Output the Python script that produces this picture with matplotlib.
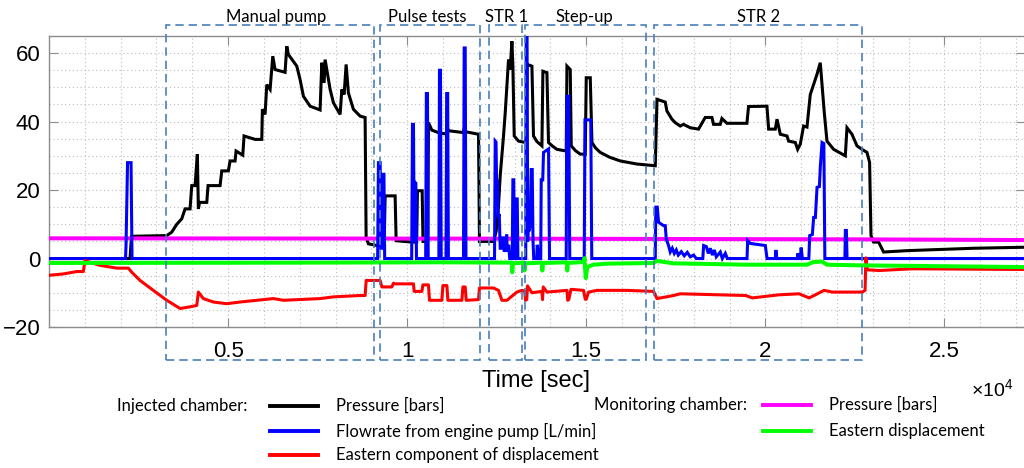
import matplotlib
matplotlib.use("Agg")
import matplotlib.pyplot as plt
from matplotlib.lines import Line2D
from matplotlib.patches import Rectangle
from matplotlib.transforms import blended_transform_factory
from matplotlib.ticker import FuncFormatter

# ---------------- data (time in seconds) ----------------
# Injected chamber: pressure [bars]
t_inj_pressure = [0, 2262, 2304, 3287, 3427, 3567, 3706, 3799, 3938, 3986, 4078,
                  4142, 4170, 4203, 4405, 4441, 4776, 4824, 5008, 5055, 5195,
                  5223, 5410, 5446, 5754, 5941, 5958, 6033, 6080, 6173, 6248,
                  6312, 6591, 6639, 6684, 6918, 7010, 7103, 7290, 7569, 7617,
                  7681, 7709, 7849, 7941, 8128, 8176, 8240, 8296, 8359, 8499,
                  8686, 8826, 8854, 8918, 9153, 9357, 9385, 9664, 9692, 10139,
                  10265, 10287, 10419, 10442, 10573, 10595, 10690, 10922, 11103,
                  11131, 11173, 11564, 11592, 11648, 11992, 12019, 12411, 12486,
                  12550, 12598, 12690, 12738, 12785, 12830, 12877, 12924, 12952,
                  12989, 13109, 13249, 13324, 13352, 13483, 13527, 13620, 13762,
                  13790, 13902, 13946, 14050, 14181, 14441, 14461, 14553, 14581,
                  14700, 14832, 14972, 15000, 15112, 15159, 15260, 15391, 15650,
                  15950, 16416, 16927, 16975, 17205, 17252, 17392, 17484, 17624,
                  17716, 17903, 18135, 18322, 18509, 18554, 18741, 18788, 18928,
                  19486, 19531, 20045, 20092, 20278, 20326, 20418, 20605, 20650,
                  20837, 20902, 20976, 21068, 21163, 21255, 21347, 21442, 21534,
                  21646, 21721, 21906, 22233, 22280, 22419, 22559, 22699, 22838,
                  22911, 22950, 23023, 23163, 23302, 23956, 25816, 27250]
inj_pressure = [0, 0, 6.5, 6.7, 7.7, 10, 11.6, 14.5, 14.5, 21.3, 21.3,
                30.5, 14.5, 16.4, 16.4, 21.3, 21.3, 25.6, 25.6, 28.5, 28.5,
                31.4, 30.2, 35.8, 34.8, 34.8, 43.6, 42.1, 50.8, 49.4, 59.1,
                55.2, 54.4, 62, 59.6, 56.2, 52.3, 47.4, 44.5, 43.4, 57.2,
                51.3, 58.1, 49.4, 45.5, 42.1, 49.4, 47.9, 56.7, 48.4, 43.6,
                41.6, 41.2, 6.2, 4.3, 3.8, 3.8, 18.3, 18.3, 5.2, 4.8,
                4.8, 19.8, 19.8, 5.0, 5.0, 39.7, 37.5, 36.6, 36.4,
                37.8, 37.3, 36.8, 38, 37, 36.3, 5.0, 5.0, 8,
                15.4, 24.2, 35.8, 42.6, 50.4, 58.1, 55.2, 63.5, 56.2,
                35.8, 34.3, 34, 34, 56.7, 56.2, 35.8, 34.2, 32.9,
                54.7, 54.3, 33.9, 32.9, 31.9, 31.4, 56.2, 55.2, 32.9,
                31.5, 30.5, 30.5, 52.8, 52.8, 33.9, 32.3, 31, 29.6,
                28.5, 27.6, 27.1, 46.5, 45.7, 43.1, 40.7, 39.7, 38.7,
                39.2, 38.2, 37.8, 41.2, 41.2, 39.2, 39.2, 40.9, 39.5,
                39.5, 44.4, 44.5, 37.8, 37.8, 40.7, 36.3, 35.8, 34.3,
                33.9, 31.9, 33.4, 38.7, 38.4, 47.9, 50.8, 53.8, 57.2,
                42.6, 34.3, 31.9, 30, 38.2, 36.3, 32.9, 31.9, 31,
                28.1, 6.7, 4.8, 4.8, 1.9, 2.3, 3.0, 3.3]

# Injected chamber: flowrate from engine pump [L/min]
t_flowrate = [0, 2137, 2151, 2193, 2291, 2318, 9176, 9198, 9246, 9268, 9302,
              9316, 9352, 9372, 10126, 10148, 10176, 10196, 10215, 10243, 10260,
              10517, 10536, 10567, 10587, 10885, 10902, 10930, 10950, 11084,
              11103, 11131, 11151, 11573, 11592, 11620, 11642, 12439, 12458,
              12481, 12500, 12514, 12542, 12570, 12598, 12626, 12667, 12695,
              12709, 12751, 12779, 12793, 12835, 12863, 12933, 12952, 12975,
              12994, 13031, 13050, 13073, 13092, 13310, 13324, 13347, 13366,
              13389, 13408, 13436, 13464, 13492, 13514, 13534, 13617, 13631,
              13659, 13687, 13729, 13743, 13785, 13807, 13947, 13975, 14441,
              14455, 14511, 14539, 14944, 14964, 15126, 15154, 16927, 16941,
              16983, 17019, 17159, 17206, 17234, 17298, 17346, 17402, 17458,
              17514, 17570, 17653, 17737, 17821, 17905, 17997, 18073, 18254,
              18277, 18352, 18408, 18464, 18520, 18575, 18631, 18743, 18799,
              18883, 18939, 19489, 19506, 19581, 19860, 20000, 20048, 20280,
              20294, 20322, 20894, 20908, 20936, 20978, 21000, 21034, 21215,
              21238, 21313, 21349, 21397, 21444, 21509, 21537, 21584, 21634,
              21662, 22221, 22235, 22263, 22282, 27250]
flowrate = [0, 0, 4, 28, 28, 0, 0, 28, 28, 3, 3,
            24.6, 24.6, 0, 0, 39.2, 39.2, 5, 22.3, 22, 0,
            0, 48.2, 48.2, 0, 0, 55, 55, 0, 0,
            48.2, 48.2, 0, 0, 61.5, 61.5, 0, 0, 34.3,
            34, 20, 23, 12, 13, 3, 3, 6, 6,
            2, 3, 7, 2, 4, 0, 0, 23, 23,
            0, 0, 17.4, 17.4, 0, 0, 66, 66, 5,
            15.4, 8, 10, 26, 26, 5, 0, 0, 4,
            2, 0, 0, 23, 23, 31, 32, 0, 0,
            47.4, 47.4, 0, 0, 40.5, 40.5, 0, 0, 15,
            15, 10.6, 9.6, 9.6, 5.7, 3.8, 1.9, 3, 1.5,
            2.5, 1, 2, 0.8, 1.8, 0.5, 1, 0, 0,
            3.8, 3.5, 1.5, 3, 1, 2.5, 0.5, 1.9, 0,
            1.5, 0, 0, 5.2, 4.4, 4, 3.8, 0, 0,
            2.5, 0, 0, 1.5, 0, 0, 3.2, 0, 0,
            6.7, 7, 12, 12, 20.8, 21, 27.1, 33.9, 33.6,
            0, 0, 8.2, 8.2, 0, 0]

# Injected chamber: eastern component of displacement
t_inj_disp = [0, 399, 774, 958, 1006, 1145, 1425, 1891, 2215, 2310, 2542,
              2913, 3288, 3659, 3939, 4126, 4170, 4310, 4589, 4964, 5335,
              6081, 6265, 6545, 7570, 7941, 8687, 8827, 8855, 9246, 9293,
              9572, 9617, 9664, 10176, 10196, 10411, 10439, 10595, 10623,
              10969, 10997, 11109, 11137, 11528, 11556, 11620, 11648, 11992,
              12019, 12411, 12550, 12645, 12785, 12924, 13064, 13204, 13282,
              13304, 13338, 13360, 13483, 13762, 13779, 13799, 13902, 14461,
              14483, 14511, 14573, 14925, 14972, 15000, 15064, 15299, 16137,
              16880, 16975, 17439, 17626, 19450, 19637, 20382, 20941, 21220,
              21360, 21639, 21871, 22709, 22785, 22807, 22849, 23176, 24106,
              27250]
inj_disp = [-4.9, -4.5, -3.8, -3.8, -0.6, -1.1, -2, -2.8, -2.8, -4, -6.4,
            -9.3, -12.2, -14.6, -14.1, -13.7, -9.8, -11.7, -12.7, -13.2, -12.7,
            -11.9, -11.7, -12.2, -11.7, -11.2, -10.8, -10.8, -6.4, -6.4, -8.3,
            -8.3, -7.2, -7.4, -7.4, -9.6, -9.6, -7.7, -7.7, -12.2,
            -12.2, -7.9, -7.9, -12.2, -12.2, -8.3, -8.3, -12.2, -12,
            -8.6, -8.6, -9.3, -12.2, -12.2, -11, -9.8, -9.3, -9.5,
            -12.2, -12, -8, -10, -9.6, -12, -8.3, -9.8, -9.3,
            -12.2, -12, -9, -9.3, -11.9, -11.9, -9.8, -9.3, -9.3,
            -9.6, -11.7, -10.8, -10.3, -10.8, -11.5, -10.6, -10.3, -11.5,
            -10.8, -9.3, -9.8, -9.8, -9.3, 0.2, -3.3, -3.5, -3.0,
            -3.2]

# Monitoring chamber: pressure [bars]
t_mon_pressure = [0, 12598, 22653, 27250]
mon_pressure = [5.9, 5.8, 5.6, 5.4]

# Monitoring chamber: eastern displacement
t_mon_disp = [0, 7011, 10922, 12919, 12933, 12955, 13262, 13276, 13296, 13759,
              13773, 13793, 14455, 14469, 14488, 14930, 14950, 14986, 15028,
              15196, 15578, 16872, 16975, 17439, 19489, 21165, 21349, 21584,
              21724, 22702, 27250]
mon_disp = [-1.3, -1.2, -1.1, -1.2, -4, -1.4, -1.2, -3.5, -1.4, -1.2,
            -3.5, -1.3, -1.1, -3.5, -1.3, -1.0, 0.1, -5.7, -2.5,
            -1.8, -1.5, -1.3, -0.7, -1.4, -1.8, -1.8, -1.0, -0.9,
            -1.8, -2.0, -2.5]

# Test phases: (label, start, end) in seconds, plus label anchor
phase_names = ["Manual pump", "Pulse tests", "STR 1", "Step-up", "STR 2"]
phase_start = [3268, 9246, 12290, 13296, 16899]
phase_end = [9078, 12039, 13212, 16676, 22710]
phase_label_x = [6341, 10573, 12765, 14936, 19824]

x_ticks = [5000, 10000, 15000, 20000, 25000]
y_ticks = [-20, 0, 20, 40, 60]

# ---------------- figure ----------------
TICK_FONT = "Liberation Sans"
NOTE_FONT = "Lato"

fig = plt.figure(figsize=(10.24, 4.68), dpi=100)
ax = fig.add_axes([49 / 1024, 141 / 468, 976 / 1024, 291 / 468])

ax.plot(t_inj_pressure, inj_pressure, color="black", lw=2.2, zorder=3,
        solid_joinstyle="miter")
ax.plot(t_mon_pressure, mon_pressure, color="#ff00ff", lw=2.9, zorder=4)
ax.plot(t_flowrate, flowrate, color="#0000ff", lw=2.2, zorder=5,
        solid_joinstyle="miter")
ax.plot(t_inj_disp, inj_disp, color="#ff0000", lw=2.2, zorder=6)
ax.plot(t_mon_disp, mon_disp, color="#00ff00", lw=2.9, zorder=7)

ax.set_xlim(0, 27250)
ax.set_ylim(-20, 65)
ax.set_xticks(x_ticks)
ax.set_yticks(y_ticks)
ax.set_xticks(range(1000, 27001, 1000), minor=True)
ax.set_yticks(range(-15, 65, 5), minor=True)
ax.xaxis.set_major_formatter(FuncFormatter(lambda v, p: f"{v / 1e4:g}"))

ax.grid(which="both", color="#bdbdbd", linestyle=(0, (1, 2.5)), lw=0.8)
ax.set_axisbelow(True)

for s in ax.spines.values():
    s.set_color("#8c8c8c")
    s.set_linewidth(1.0)

ax.tick_params(which="major", direction="in", length=6.5, width=0.8,
               color="#8c8c8c", top=True, right=True, labelsize=16)
ax.tick_params(which="minor", length=0, top=True, right=True)
ax.tick_params(axis="x", pad=10)
ax.tick_params(axis="y", pad=6)
for lab in ax.get_xticklabels() + ax.get_yticklabels():
    lab.set_fontfamily(TICK_FONT)

# axis label and exponent
fig.text(536 / 1024, 1 - 381 / 468, "Time [sec]", ha="center", va="center",
         fontsize=17, family=TICK_FONT)
fig.text(971 / 1024, 1 - 396 / 468, r"$\mathregular{\times10^{4}}$",
         ha="left", va="baseline", fontsize=14, family=TICK_FONT)

# dashed phase boxes
trans = blended_transform_factory(ax.transData, ax.transAxes)
for name, x0, x1, xl in zip(phase_names, phase_start, phase_end, phase_label_x):
    ax.add_patch(Rectangle((x0, -0.114), x1 - x0, 1.152, transform=trans,
                           fill=False, edgecolor="#4a7ebb", lw=1.2,
                           linestyle=(0, (5, 3)), clip_on=False, zorder=8))
    ax.text(xl, 1.066, name, transform=trans, ha="center", va="center",
            fontsize=12, family=NOTE_FONT, clip_on=False)

# legend rows drawn in figure pixels
def fx(px):
    return px / 1024


def fy(py):
    return 1 - py / 468


def legend_entry(x_line, y, color, label):
    fig.add_artist(Line2D([fx(x_line), fx(x_line + 48)], [fy(y), fy(y)],
                          color=color, lw=2.8, transform=fig.transFigure))
    fig.text(fx(x_line + 66), fy(y), label, ha="left", va="center",
             fontsize=12, family=NOTE_FONT)


fig.text(fx(117), fy(406), "Injected chamber:", ha="left", va="center",
         fontsize=12, family=NOTE_FONT)
legend_entry(270, 406, "black", "Pressure [bars]")
legend_entry(270, 431, "#0000ff", "Flowrate from engine pump [L/min]")
legend_entry(270, 455, "#ff0000", "Eastern component of displacement")

fig.text(fx(594), fy(405), "Monitoring chamber:", ha="left", va="center",
         fontsize=12, family=NOTE_FONT)
legend_entry(763, 405, "#ff00ff", "Pressure [bars]")
legend_entry(763, 431, "#00ff00", "Eastern displacement")

fig.savefig("out.png", dpi=100)
